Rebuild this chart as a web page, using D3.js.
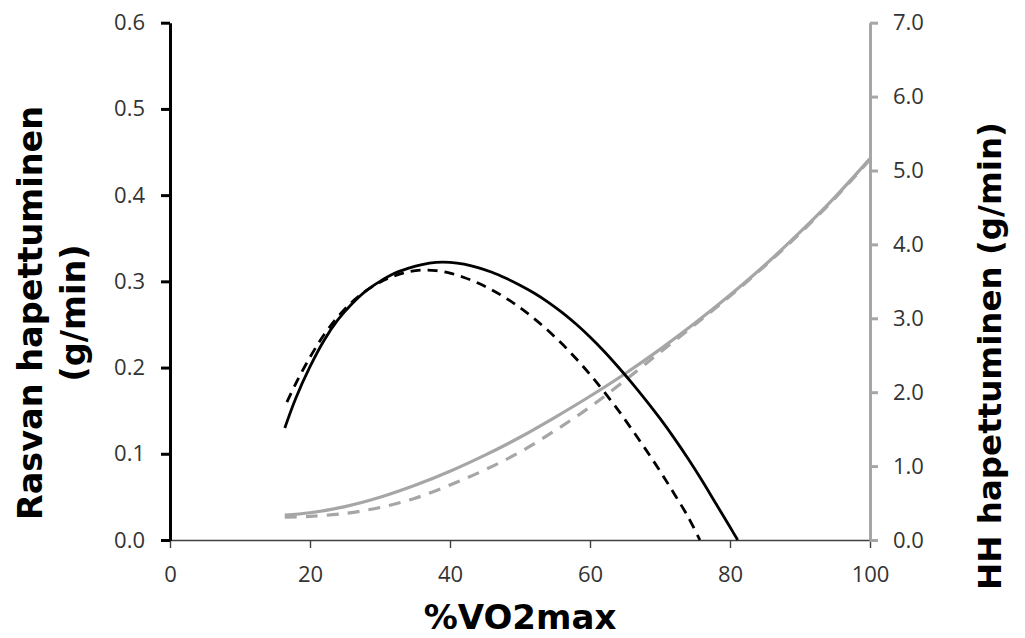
<!DOCTYPE html>
<html>
<head>
<meta charset="utf-8">
<script src="https://cdn.jsdelivr.net/npm/d3@7"></script>
<style>
  html, body { margin: 0; padding: 0; background: #fff; }
  svg { display: block; }
  .tick text { font-family: "Open Sans", "Noto Sans", sans-serif; }
  .title { font-family: "DejaVu Sans", Verdana, sans-serif; font-weight: bold; }
</style>
</head>
<body>
<svg id="chart" width="1025" height="638"></svg>
<script>
// Fat oxidation (left axis, g/min) against %VO2max
const fatSolidX = [16.4, 18, 20, 22, 24, 26, 28, 30, 32, 34, 36, 38, 40, 42, 44, 46, 48, 50, 52, 54, 56, 58, 60, 62, 64, 66, 68, 70, 72, 74, 76, 78, 80, 81.1];
const fatSolidY = [0.130, 0.165, 0.201, 0.2315, 0.2555, 0.274, 0.289, 0.300, 0.309, 0.315, 0.3195, 0.322, 0.322, 0.320, 0.316, 0.3105, 0.3035, 0.2955, 0.2865, 0.276, 0.264, 0.2505, 0.2355, 0.219, 0.201, 0.182, 0.162, 0.141, 0.1185, 0.0945, 0.069, 0.042, 0.015, 0.0];

const fatDashX = [16.7, 18, 20, 22, 24, 26, 28, 30, 32, 34, 36, 38, 40, 42, 44, 46, 48, 50, 52, 54, 56, 58, 60, 62, 64, 66, 68, 70, 72, 74, 75.7];
const fatDashY = [0.160, 0.182, 0.212, 0.238, 0.259, 0.276, 0.289, 0.299, 0.306, 0.311, 0.313, 0.3125, 0.3095, 0.3045, 0.298, 0.290, 0.2805, 0.2695, 0.257, 0.243, 0.2275, 0.2105, 0.192, 0.172, 0.151, 0.128, 0.1045, 0.080, 0.054, 0.027, 0.0];

// Carbohydrate oxidation (right axis, g/min)
const choSolidX = [16.4, 20, 25, 30, 35, 40, 45, 50, 55, 60, 65, 70, 75, 80, 85, 90, 95, 100];
const choSolidY = [0.338, 0.369, 0.452, 0.578, 0.740, 0.930, 1.148, 1.390, 1.660, 1.945, 2.250, 2.580, 2.935, 3.315, 3.722, 4.165, 4.640, 5.160];

const choDashX = [16.4, 20, 25, 30, 35, 40, 45, 50, 55, 60, 65, 70, 75, 80, 85, 90, 95, 100];
const choDashY = [0.31, 0.32, 0.36, 0.44, 0.565, 0.745, 0.95, 1.19, 1.48, 1.80, 2.16, 2.54, 2.915, 3.30, 3.71, 4.15, 4.625, 5.15];

// Tick labels
const xTicks = [0, 20, 40, 60, 80, 100];
const yLeftTicks = [0, 0.1, 0.2, 0.3, 0.4, 0.5, 0.6];
const yRightTicks = [0, 1, 2, 3, 4, 5, 6, 7];

const xTitle = "%VO2max";
const yLeftTitle = ["Rasvan hapettuminen", "(g/min)"];
const yRightTitle = "HH hapettuminen (g/min)";

const svg = d3.select("#chart");
const W = 1025, H = 638;
const margin = { top: 22.7, right: 155, bottom: 98, left: 170 };

const x = d3.scaleLinear().domain([0, 100]).range([margin.left, W - margin.right]);
const yL = d3.scaleLinear().domain([0, 0.6]).range([H - margin.bottom, margin.top]);
const yR = d3.scaleLinear().domain([0, 7]).range([H - margin.bottom, margin.top]);

const black = "#000000";
const grey = "#a6a6a6";
const tickText = "#333333";

function styleTicks(g) {
  g.selectAll(".tick text").attr("fill", tickText).style("font-size", "22px");
}

// x axis
const gx = svg.append("g")
  .attr("transform", `translate(0,${H - margin.bottom})`)
  .call(d3.axisBottom(x).tickValues(xTicks).tickSize(8).tickSizeOuter(0).tickPadding(18));
gx.select(".domain").attr("stroke", "#404040").attr("stroke-width", 1.4);
gx.selectAll(".tick line").attr("stroke", "#404040").attr("stroke-width", 1.4);
styleTicks(gx);

// left axis
const gl = svg.append("g")
  .attr("transform", `translate(${margin.left},0)`)
  .call(d3.axisLeft(yL).tickValues(yLeftTicks).tickFormat(d3.format(".1f")).tickSize(9).tickSizeOuter(0).tickPadding(16));
gl.select(".domain").attr("stroke", black).attr("stroke-width", 3);
gl.selectAll(".tick line").attr("stroke", black).attr("stroke-width", 3);
styleTicks(gl);

// right axis
const gr = svg.append("g")
  .attr("transform", `translate(${W - margin.right},0)`)
  .call(d3.axisRight(yR).tickValues(yRightTicks).tickFormat(d3.format(".1f")).tickSize(8).tickSizeOuter(0).tickPadding(15));
gr.select(".domain").attr("stroke", grey).attr("stroke-width", 3);
gr.selectAll(".tick line").attr("stroke", grey).attr("stroke-width", 3);
styleTicks(gr);

// curves
function zip(xs, ys) { return xs.map((v, i) => [v, ys[i]]); }
const lineL = d3.line().x(d => x(d[0])).y(d => yL(d[1])).curve(d3.curveCatmullRom);
const lineR = d3.line().x(d => x(d[0])).y(d => yR(d[1])).curve(d3.curveCatmullRom);

svg.append("path").datum(zip(choSolidX, choSolidY))
  .attr("d", lineR).attr("fill", "none").attr("stroke", grey).attr("stroke-width", 3.2);
svg.append("path").datum(zip(choDashX, choDashY))
  .attr("d", lineR).attr("fill", "none").attr("stroke", grey).attr("stroke-width", 3.2)
  .attr("stroke-dasharray", "12,9");
svg.append("path").datum(zip(fatSolidX, fatSolidY))
  .attr("d", lineL).attr("fill", "none").attr("stroke", black).attr("stroke-width", 2.8);
svg.append("path").datum(zip(fatDashX, fatDashY))
  .attr("d", lineL).attr("fill", "none").attr("stroke", black).attr("stroke-width", 2.8)
  .attr("stroke-dasharray", "10,7");

// titles
svg.append("text").attr("class", "title")
  .attr("x", 520).attr("y", 629)
  .attr("text-anchor", "middle")
  .style("font-size", "34px").attr("fill", black).text(xTitle);

const lt = svg.append("text").attr("class", "title")
  .attr("transform", `translate(0,313) rotate(-90)`)
  .attr("text-anchor", "middle")
  .style("font-size", "33.5px").attr("fill", black);
lt.append("tspan").attr("x", 0).attr("y", 42).text(yLeftTitle[0]);
lt.append("tspan").attr("x", 0).attr("y", 85).text(yLeftTitle[1]);

svg.append("text").attr("class", "title")
  .attr("transform", `translate(1001,356) rotate(-90)`)
  .attr("text-anchor", "middle")
  .style("font-size", "32.5px").attr("fill", black).text(yRightTitle);
</script>
</body>
</html>
